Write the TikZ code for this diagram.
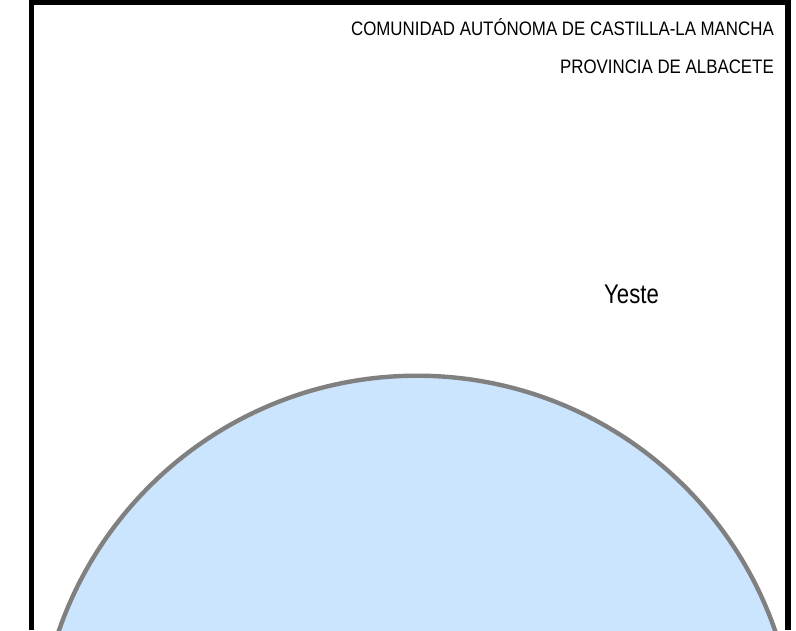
\documentclass[tikz,border=0pt]{standalone}
\usepackage{fontspec}
\setmainfont{Liberation Sans}
\newfontfamily\headfont[FakeStretch=0.865]{Liberation Sans}
\newfontfamily\placefont[FakeStretch=0.82]{Liberation Sans}
\definecolor{lake}{HTML}{CCE5FF}
\definecolor{rim}{HTML}{808080}
\tikzset{
  framebar/.style={fill=black,draw=none},
  headtext/.style={anchor=base east,inner sep=0pt,font=\headfont\fontsize{19.5}{21}\selectfont},
  placetext/.style={anchor=base,inner sep=0pt,font=\placefont\fontsize{27}{29}\selectfont}
}
\begin{document}
\begin{tikzpicture}[x=1pt,y=-1pt]
\useasboundingbox (0,0) rectangle (796,630);
\begin{scope}
\clip (0,0) rectangle (796,630);
\fill[white] (0,0) rectangle (796,630);
\draw[rim,fill=lake,line width=4.4pt] (417,754.5) circle (378.8);
\fill[framebar] (29,0) rectangle (34,630);
\fill[framebar] (785.3,0) rectangle (790.8,630);
\fill[framebar] (29,0) rectangle (790.8,4.5);
\end{scope}
\node[headtext] (region) at (774,35) {COMUNIDAD AUTÓNOMA DE CASTILLA-LA MANCHA};
\node[headtext] (province) at (774,73) {PROVINCIA DE ALBACETE};
\node[placetext] (town) at (631.5,303) {Yeste};
\end{tikzpicture}
\end{document}
